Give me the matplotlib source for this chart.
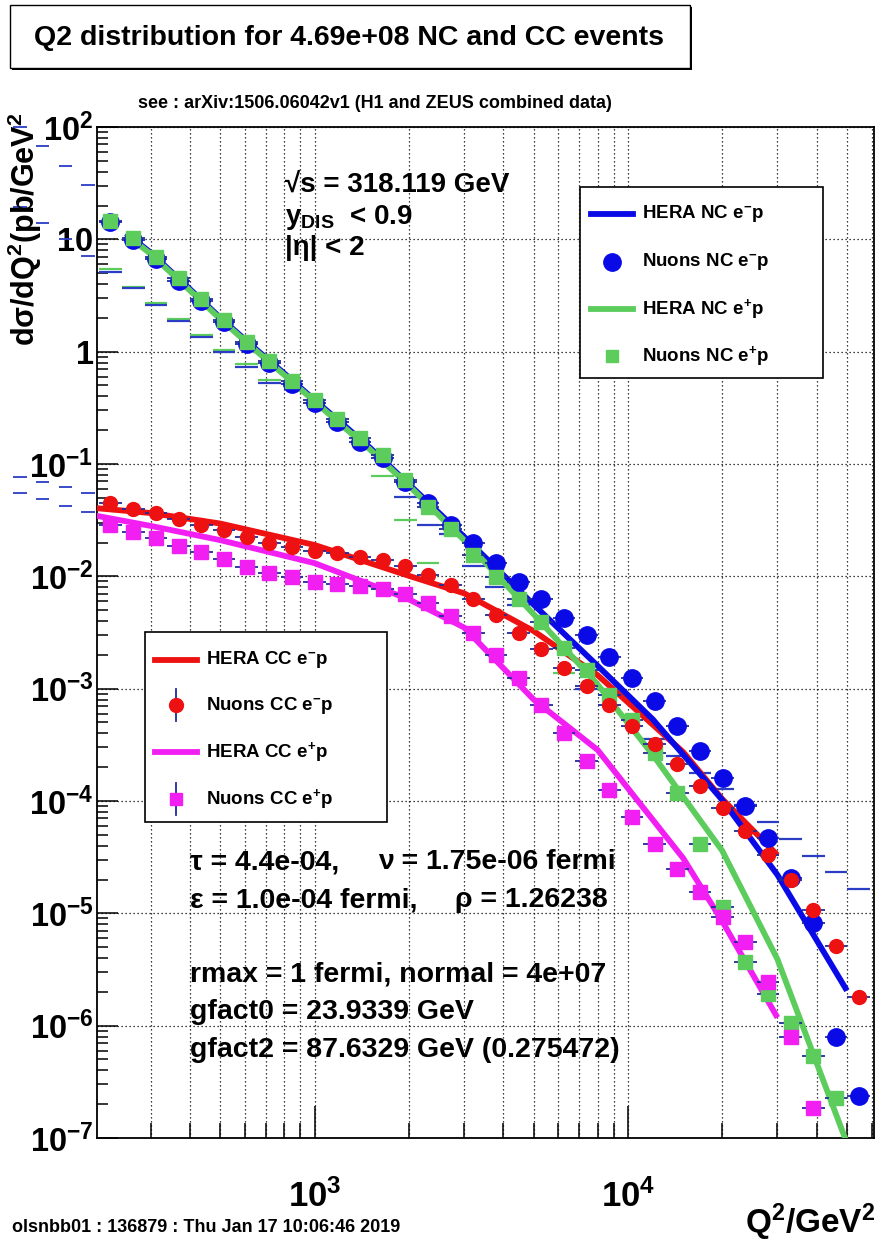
import numpy as np
import matplotlib
matplotlib.use("Agg")
import matplotlib.pyplot as plt
from matplotlib.lines import Line2D
from matplotlib.patches import Rectangle

FONT = "Liberation Sans"
plt.rcParams["font.family"] = [FONT, "DejaVu Sans"]
plt.rcParams["font.weight"] = "bold"
plt.rcParams["mathtext.fontset"] = "custom"
plt.rcParams["mathtext.rm"] = FONT + ":bold"
plt.rcParams["mathtext.it"] = FONT + ":bold"
plt.rcParams["mathtext.bf"] = FONT + ":bold"
plt.rcParams["mathtext.sf"] = FONT + ":bold"

# ---------------- data ----------------
# bin centres of the generated sample (GeV^2)
q2_bins = [223, 264, 312, 368, 435, 514, 607, 717, 847, 1000, 1181, 1396, 1649,
           1948, 2300, 2718, 3211, 3793, 4480, 5291, 6252, 7385, 8723, 10306,
           12172, 14381, 16990, 20070, 23710, 28010, 33080, 39090, 46170, 54540]
# underflow-side bins that fall left of the plotted range
q2_low_bins = [189, 160, 135.5, 114.7]

nuons_nc_em = [14.2, 9.9, 6.7, 4.3, 2.8, 1.82, 1.17, 0.79, 0.52, 0.35, 0.235,
               0.158, 0.112, 0.0695, 0.0447, 0.0286, 0.0197, 0.0131, 0.00896,
               0.00624, 0.00428, 0.00301, 0.00192, 0.00125, 7.71e-4, 4.67e-4,
               2.79e-4, 1.60e-4, 9.08e-5, 4.72e-5, 2.07e-5, 8.17e-6, 7.94e-7,
               2.35e-7]
nuons_nc_ep = [14.7, 10.3, 7.0, 4.50, 2.92, 1.91, 1.23, 0.831, 0.551, 0.371,
               0.250, 0.169, 0.120, 0.0720, 0.0417, 0.0262, 0.0155, 0.00993,
               0.00624, 0.00394, 0.00229, 0.00147, 8.77e-4, 5.26e-4, 2.69e-4,
               1.18e-4, 4.11e-5, 1.14e-5, 3.69e-6, 1.91e-6, 1.05e-6, 5.37e-7,
               2.27e-7]
nuons_cc_em = [0.0447, 0.0395, 0.0364, 0.0322, 0.0286, 0.0258, 0.0222, 0.0199,
               0.0184, 0.0169, 0.0160, 0.0150, 0.0140, 0.01236, 0.01028,
               0.00838, 0.00624, 0.00453, 0.00315, 0.00224, 0.00152, 0.00105,
               7.15e-4, 4.67e-4, 3.20e-4, 2.12e-4, 1.35e-4, 8.66e-5, 5.42e-5,
               3.30e-5, 1.97e-5, 1.06e-5, 5.16e-6, 1.79e-6]
nuons_cc_ep = [0.0286, 0.0250, 0.0218, 0.0187, 0.0166, 0.0142, 0.0122, 0.0108,
               0.00980, 0.00895, 0.00855, 0.00820, 0.00766, 0.00696, 0.00575,
               0.00446, 0.00315, 0.00200, 0.00124, 7.15e-4, 4.06e-4, 2.27e-4,
               1.26e-4, 7.14e-5, 4.11e-5, 2.50e-5, 1.55e-5, 9.27e-6, 5.56e-6,
               2.47e-6, 7.92e-7, 1.85e-7]

# HERA combined cross sections
hera_nc_q2 = [250, 300, 400, 500, 650, 800, 1000, 1200, 1500, 2000, 3000, 5000,
              8000, 12000, 20000, 30000, 50000]
hera_nc_em = [11.3, 7.6, 3.6, 2.0, 1.05, 0.64, 0.37, 0.24, 0.14, 0.066, 0.0225,
              0.0056, 1.60e-3, 5.34e-4, 1.02e-4, 2.2e-5, 2.05e-6]
hera_nc_ep = [11.0, 7.4, 3.5, 1.95, 1.02, 0.62, 0.36, 0.23, 0.135, 0.064, 0.021,
              4.6e-3, 1.09e-3, 2.58e-4, 3.6e-5, 3.9e-6, 9.0e-8]
hera_cc_q2 = [200, 300, 500, 1000, 2000, 3000, 5000, 8000, 15000, 20000, 30000]
hera_cc_em = [0.0405, 0.0366, 0.0295, 0.0190, 0.0101, 7.06e-3, 3.26e-3, 1.32e-3,
              2.73e-4, 1.04e-4, 3.3e-5]
hera_cc_ep = [0.0347, 0.0281, 0.0210, 0.0131, 6.24e-3, 3.5e-3, 8.0e-4, 2.85e-4,
              3.1e-5, 8.5e-6, 1.18e-6]

# second filling of the NC histograms (error bars only)
ghost_em_bins = [0, 1, 2, 3, 4, 5, 6, 7, 13, 14, 15, 16, 17, 18, 21,
                 24, 25, 26, 27, 28, 29, 30, 31, 32, 33]
ghost_em = [5.15, 3.66, 2.60, 1.88, 1.36, 0.998, 0.734, 0.530,
            0.0512, 0.0286, 0.0236, 0.0124, 0.0081, 0.0055, 1.0e-3,
            3.56e-4, 2.51e-4, 1.77e-4, 1.29e-4, 9.26e-5, 6.50e-5, 4.59e-5,
            3.24e-5, 2.33e-5, 1.66e-5]
ghost_ep_bins = [0, 1, 2, 3, 4, 5, 6, 7, 12, 13, 14, 20]
ghost_ep = [5.4, 3.8, 2.7, 1.95, 1.42, 1.04, 0.77, 0.555, 0.078, 0.0317,
            0.0131, 1.37e-3]
# the same fillings in the low-Q2 bins (drawn past the frame)
ghost_low_nc_a = [7.11, 10.1, 14.0, 19.4]
ghost_low_nc_b = [30.5, 45.0, 68.0, 100.0]
ghost_low_cc_a = [0.0552, 0.0624, 0.0692, 0.0766]
ghost_low_cc_b = [0.0374, 0.0423, 0.0488, 0.0552]

y_ticks = [1e2, 1e1, 1e0, 1e-1, 1e-2, 1e-3, 1e-4, 1e-5, 1e-6, 1e-7]
y_labels = [r"$10^{2}$", "10", "1", r"$10^{-1}$", r"$10^{-2}$", r"$10^{-3}$",
            r"$10^{-4}$", r"$10^{-5}$", r"$10^{-6}$", r"$10^{-7}$"]
x_ticks = [1e3, 1e4]
x_labels = [r"$10^{3}$", r"$10^{4}$"]

# ---------------- figure ----------------
W, H = 882, 1245
fig = plt.figure(figsize=(W / 100, H / 100), dpi=100)
fig.patch.set_facecolor("white")


def fx(px):
    return px / W


def fy(py):
    return 1 - py / H


ax = fig.add_axes([fx(97), fy(1138), (874 - 97) / W, (1138 - 127) / H])
ax.set_xscale("log")
ax.set_yscale("log")
ax.set_xlim(202, 61000)
ax.set_ylim(1e-7, 1e2)

BLUE = "#0a0ae6"
GREEN = "#5ccd5c"
RED = "#ee1111"
MAGENTA = "#f21ff2"
EBAR = "#1c2c9c"
GHOST = "#2b3dc4"

q2 = np.array(q2_bins, dtype=float)
edges_mid = np.sqrt(q2[:-1] * q2[1:])
lo_edge = np.concatenate([[q2[0] ** 2 / edges_mid[0]], edges_mid])
hi_edge = np.concatenate([edges_mid, [q2[-1] ** 2 / edges_mid[-1]]])


def xerr_for(n):
    return [q2[:n] - lo_edge[:n], hi_edge[:n] - q2[:n]]


# ghost error bars
for bins, vals, col in [(ghost_ep_bins, ghost_ep, GREEN), (ghost_em_bins, ghost_em, GHOST)]:
    b = np.array(bins)
    ax.hlines(vals, lo_edge[b], hi_edge[b], color=col, lw=1.6, zorder=2)

qlow = np.array(q2_low_bins)
for vals in (ghost_low_nc_a, ghost_low_nc_b, ghost_low_cc_a, ghost_low_cc_b):
    ax.hlines(vals, qlow / 1.05, qlow * 1.05, color=GHOST, lw=1.3,
              zorder=2, clip_on=False)

# HERA curves
ax.plot(hera_cc_q2, hera_cc_em, color=RED, lw=4.2, zorder=3, solid_capstyle="butt")
ax.plot(hera_cc_q2, hera_cc_ep, color=MAGENTA, lw=4.2, zorder=3, solid_capstyle="butt")
ax.plot(hera_nc_q2, hera_nc_em, color=BLUE, lw=4.2, zorder=3.1, solid_capstyle="butt")
ax.plot(hera_nc_q2, hera_nc_ep, color=GREEN, lw=4.2, zorder=3.2, solid_capstyle="butt")

# generated points
series = [
    (nuons_nc_em, "o", BLUE, 12.5, 4.0),
    (nuons_nc_ep, "s", GREEN, 10.5, 4.1),
    (nuons_cc_em, "o", RED, 10.0, 4.2),
    (nuons_cc_ep, "s", MAGENTA, 10.0, 4.3),
]
for vals, mk, col, ms, z in series:
    n = len(vals)
    ax.errorbar(q2[:n], vals, xerr=xerr_for(n), fmt=mk, color=col, ms=ms,
                mec=col, ecolor=EBAR, elinewidth=1.3, capsize=0, zorder=z)

# axes styling
ax.set_yticks(y_ticks)
ax.set_yticklabels(y_labels)
ax.set_xticks(x_ticks)
ax.set_xticklabels(x_labels)
ax.xaxis.set_minor_locator(matplotlib.ticker.LogLocator(base=10, subs=np.arange(2, 10)))
ax.xaxis.set_minor_formatter(matplotlib.ticker.NullFormatter())
ax.yaxis.set_minor_locator(matplotlib.ticker.LogLocator(base=10, subs=np.arange(2, 10), numticks=20))
ax.yaxis.set_minor_formatter(matplotlib.ticker.NullFormatter())
ax.tick_params(axis="y", which="major", direction="in", length=15, width=1.1,
               labelsize=23.5, pad=2.5, right=False)
ax.tick_params(axis="y", which="minor", direction="in", length=8, width=1.1, right=False)
ax.tick_params(axis="x", which="major", direction="in", length=23, width=1.1,
               labelsize=25, pad=30, top=False)
ax.tick_params(axis="x", which="minor", direction="in", length=11, width=1.1, top=False)
ax.grid(True, which="both", axis="x", color="black", lw=0.9, ls=(0, (1, 2.2)))
ax.grid(True, which="major", axis="y", color="black", lw=0.9, ls=(0, (1, 2.2)))
ax.set_axisbelow(True)
for s in ax.spines.values():
    s.set_linewidth(1.3)

# y title
fig.text(fx(25), fy(229), r"d$\sigma$/dQ$^{2}$(pb/GeV$^{2}$", rotation=90,
         fontsize=22, ha="center", va="center")
# x title
fig.text(fx(876), fy(1222), r"Q$^{2}$/GeV$^{2}$", fontsize=24, ha="right", va="center")

# title box
fig.add_artist(Rectangle((fx(12), fy(70)), (690 - 10) / W, (68 - 5) / H,
                         transform=fig.transFigure, facecolor="black", edgecolor="none"))
fig.add_artist(Rectangle((fx(10), fy(68)), (690 - 10) / W, (68 - 5) / H,
                         transform=fig.transFigure, facecolor="white",
                         edgecolor="black", lw=1.0))
fig.text(fx(349), fy(38), "Q2 distribution for 4.69e+08 NC and CC events",
         fontsize=20.5, ha="center", va="center")

fig.text(fx(375), fy(104), "see : arXiv:1506.06042v1 (H1 and ZEUS combined data)",
         fontsize=13, ha="center", va="center")
fig.text(fx(12), fy(1228), "olsnbb01 : 136879 : Thu Jan 17 10:06:46 2019",
         fontsize=13, ha="left", va="center")

# kinematic cuts
fig.text(fx(285), fy(185), "\u221as = 318.119 GeV", fontsize=20, ha="left", va="center")
fig.text(fx(285), fy(218), r"y$_{DIS}$  < 0.9", fontsize=20, ha="left", va="center")
fig.text(fx(285), fy(248), "|\u03b7| < 2", fontsize=20, ha="left", va="center")

# model parameters
params = [
    (190, 862, "\u03c4 = 4.4e-04,"),
    (378, 862, "\u03bd = 1.75e-06 fermi"),
    (190, 900, "\u03b5 = 1.0e-04 fermi,"),
    (455, 900, "\u03c1 = 1.26238"),
    (190, 975, "rmax = 1 fermi, normal = 4e+07"),
    (190, 1012, "gfact0 = 23.9339 GeV"),
    (190, 1050, "gfact2 = 87.6329 GeV (0.275472)"),
]
for px, py, txt in params:
    fig.text(fx(px), fy(py), txt, fontsize=20.5, ha="left", va="center")


# legends
def legend_box(x0, y0, x1, y1, entries, line_x, mark_x, text_x):
    fig.add_artist(Rectangle((fx(x0), fy(y1)), (x1 - x0) / W, (y1 - y0) / H,
                             transform=fig.transFigure, facecolor="white",
                             edgecolor="black", lw=1.2, zorder=10))
    for py, kind, col, mk, ms, label in entries:
        if kind == "line":
            fig.add_artist(Line2D([fx(line_x[0]), fx(line_x[1])], [fy(py), fy(py)],
                                  transform=fig.transFigure, color=col, lw=4.2, zorder=11))
        else:
            if kind == "markbar":
                fig.add_artist(Line2D([fx(mark_x), fx(mark_x)], [fy(py - 16), fy(py + 16)],
                                      transform=fig.transFigure, color=EBAR, lw=1.3, zorder=11))
            fig.add_artist(Line2D([fx(mark_x)], [fy(py)], transform=fig.transFigure,
                                  marker=mk, ms=ms, color=col, mec=col, ls="none", zorder=12))
        fig.text(fx(text_x), fy(py), label, fontsize=13.5, ha="left", va="center", zorder=12)


legend_box(580, 187, 823, 378, [
    (214, "line", BLUE, None, 0, r"HERA NC e$^{-}$p"),
    (262, "mark", BLUE, "o", 12.5, r"Nuons NC e$^{-}$p"),
    (309, "line", GREEN, None, 0, r"HERA NC e$^{+}$p"),
    (356, "mark", GREEN, "s", 8, r"Nuons NC e$^{+}$p"),
], (591, 633), 612, 642)

legend_box(145, 632, 387, 822, [
    (660, "line", RED, None, 0, r"HERA CC e$^{-}$p"),
    (705, "markbar", RED, "o", 10, r"Nuons CC e$^{-}$p"),
    (752, "line", MAGENTA, None, 0, r"HERA CC e$^{+}$p"),
    (799, "markbar", MAGENTA, "s", 9, r"Nuons CC e$^{+}$p"),
], (155, 197), 176, 206)

fig.savefig("out.png", dpi=100, facecolor="white")
